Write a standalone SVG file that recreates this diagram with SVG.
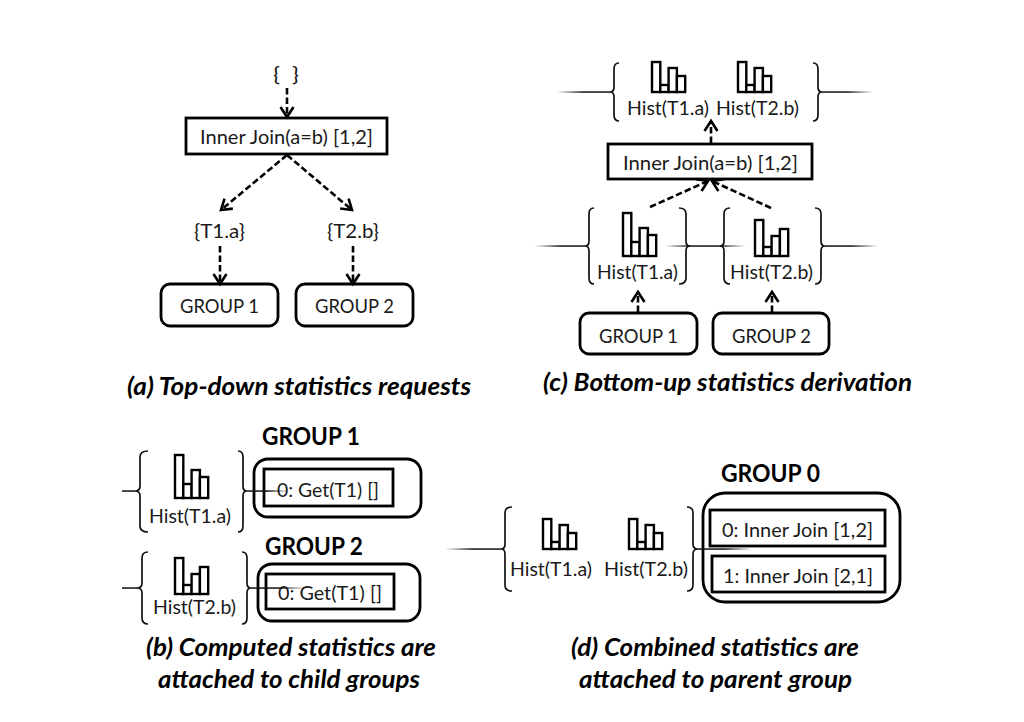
<svg xmlns="http://www.w3.org/2000/svg" xmlns:xlink="http://www.w3.org/1999/xlink" width="1024" height="722" viewBox="0 0 1024 722">
<style>
text{font-family:Lato,"Noto Sans",sans-serif;fill:#1a1a1a}
.t{font-size:20px}
.h{font-size:24px;font-weight:700;fill:#000}
.c{font-size:25px;font-weight:700;font-style:italic;fill:#000}
.box{fill:#fff;stroke:#000;stroke-width:2.8}
.out{fill:none;stroke:#000;stroke-width:2.8}
.br{fill:none;stroke:#111;stroke-width:1.7}
.bar{fill:#fff;stroke:#000;stroke-width:2.4}
.d{fill:none;stroke:#000;stroke-width:2.6;stroke-dasharray:6.500 3;marker-end:url(#a)}
</style>
<defs>
<marker id="a" markerUnits="userSpaceOnUse" markerWidth="18" markerHeight="18" refX="12" refY="8" orient="auto"><path d="M2 1.500 L12 8 L2 14.500" fill="none" stroke="#000" stroke-width="2.6"/></marker>
<linearGradient id="fl"><stop offset="0" stop-color="#111" stop-opacity="0"/><stop offset=".5" stop-color="#111"/></linearGradient>
<linearGradient id="fr"><stop offset=".5" stop-color="#111"/><stop offset="1" stop-color="#111" stop-opacity="0"/></linearGradient>
<linearGradient id="fb"><stop offset="0" stop-color="#111" stop-opacity="0"/><stop offset=".3" stop-color="#111"/><stop offset=".7" stop-color="#111"/><stop offset="1" stop-color="#111" stop-opacity="0"/></linearGradient>
<g id="iA"><rect class="bar" x="0" y="-43" width="8.300" height="43"/><rect class="bar" x="8.300" y="-14" width="8.300" height="14"/><rect class="bar" x="16.600" y="-28" width="8.300" height="28"/><rect class="bar" x="24.900" y="-21" width="8.300" height="21"/></g>
<g id="iB"><rect class="bar" x="0" y="-36" width="8.300" height="36"/><rect class="bar" x="8.300" y="-9" width="8.300" height="9"/><rect class="bar" x="16.600" y="-20" width="8.300" height="20"/><rect class="bar" x="24.900" y="-27" width="8.300" height="27"/></g>
<g id="iC"><rect class="bar" x="0" y="-30" width="8.300" height="30"/><rect class="bar" x="8.300" y="-7" width="8.300" height="7"/><rect class="bar" x="16.600" y="-24" width="8.300" height="24"/><rect class="bar" x="24.900" y="-16" width="8.300" height="16"/></g>
</defs>
<rect width="1024" height="722" fill="#fff"/>

<g id="panel-a">
<text id="a-empty" class="t" x="273" y="81" textLength="26" lengthAdjust="spacingAndGlyphs" xml:space="preserve">{  }</text>
<g id="a-join"><rect class="box" x="186" y="118" width="201" height="36"/><text class="t" x="200" y="144" textLength="173" lengthAdjust="spacingAndGlyphs">Inner Join(a=b) [1,2]</text></g>
<text id="a-t1" class="t" x="194" y="238" textLength="51" lengthAdjust="spacingAndGlyphs">{T1.a}</text>
<text id="a-t2" class="t" x="327" y="238" textLength="52" lengthAdjust="spacingAndGlyphs">{T2.b}</text>
<g id="a-g1"><rect class="box" x="161" y="284" width="117" height="42" rx="9"/><text class="t" x="180" y="313" textLength="79" lengthAdjust="spacingAndGlyphs">GROUP 1</text></g>
<g id="a-g2"><rect class="box" x="296" y="284" width="117" height="42" rx="9"/><text class="t" x="315" y="313" textLength="79" lengthAdjust="spacingAndGlyphs">GROUP 2</text></g>
</g>

<g id="panel-c">
<g id="c-top">
<rect x="557" y="91.300" width="53" height="1.500" fill="url(#fl)"/>
<rect x="822" y="91.300" width="51" height="1.500" fill="url(#fr)"/>
<path class="br" d="M619 63 Q614 63 614 69 L614 87 Q614 92 610 92 Q614 92 614 97 L614 115 Q614 121 619 121"/>
<path class="br" d="M813 63 Q818 63 818 69 L818 87 Q818 92 822 92 Q818 92 818 97 L818 115 Q818 121 813 121"/>
<use href="#iC" x="652" y="92"/><use href="#iC" x="738" y="92"/>
<text class="t" x="627" y="115" textLength="82" lengthAdjust="spacingAndGlyphs">Hist(T1.a)</text>
<text class="t" x="716" y="115" textLength="83" lengthAdjust="spacingAndGlyphs">Hist(T2.b)</text>
</g>
<g id="c-join"><rect class="box" x="608" y="144" width="204" height="35"/><text class="t" x="623" y="170" textLength="175" lengthAdjust="spacingAndGlyphs">Inner Join(a=b) [1,2]</text></g>
<g id="c-h1">
<rect x="535" y="245.300" width="50" height="1.500" fill="url(#fl)"/>
<path class="br" d="M594 208 Q589 208 589 214 L589 241 Q589 246 585 246 Q589 246 589 251 L589 278 Q589 284 594 284"/>
<path class="br" d="M679 208 Q686 208 686 214 L686 241 Q686 246 690 246 Q686 246 686 251 L686 278 Q686 284 679 284"/>
<use href="#iA" x="623" y="256"/>
<text class="t" x="597" y="279" textLength="81" lengthAdjust="spacingAndGlyphs">Hist(T1.a)</text>
</g>
<rect id="c-link" x="665" y="245.300" width="80" height="1.500" fill="url(#fb)"/>
<g id="c-h2">
<rect x="825" y="245.300" width="53" height="1.500" fill="url(#fr)"/>
<path class="br" d="M730 208 Q724 208 724 214 L724 241 Q724 246 720 246 Q724 246 724 251 L724 278 Q724 284 730 284"/>
<path class="br" d="M815 208 Q821 208 821 214 L821 241 Q821 246 825 246 Q821 246 821 251 L821 278 Q821 284 815 284"/>
<use href="#iB" x="755" y="256"/>
<text class="t" x="730" y="279" textLength="83" lengthAdjust="spacingAndGlyphs">Hist(T2.b)</text>
</g>
<g id="c-g1"><rect class="box" x="580" y="313" width="117" height="41" rx="9"/><text class="t" x="599" y="343" textLength="79" lengthAdjust="spacingAndGlyphs">GROUP 1</text></g>
<g id="c-g2"><rect class="box" x="713" y="313" width="116" height="41" rx="9"/><text class="t" x="732" y="343" textLength="79" lengthAdjust="spacingAndGlyphs">GROUP 2</text></g>
</g>

<g id="connectors">
<path class="d" d="M287 88 L287 117"/>
<path class="d" d="M287 155 L221 210"/>
<path class="d" d="M287 155 L352 210"/>
<path class="d" d="M220 246 L220 284"/>
<path class="d" d="M353 246 L353 284"/>
<path class="d" d="M711 143 L711 121"/>
<path class="d" d="M650 207 L708 181"/>
<path class="d" d="M771 208 L712 181"/>
<path class="d" d="M638 312 L638 292"/>
<path class="d" d="M772 312 L772 292"/>
</g>

<g id="panel-b">
<g id="b-g1">
<text class="h" x="262" y="445" textLength="98" lengthAdjust="spacingAndGlyphs">GROUP 1</text>
<rect class="out" x="254" y="459" width="167" height="58" rx="14"/>
<rect class="out" x="264" y="469" width="129" height="37"/>
<text class="t" x="277" y="497" textLength="102" lengthAdjust="spacingAndGlyphs">0: Get(T1) []</text>
</g>
<g id="b-h1">
<rect x="122" y="490.300" width="13" height="1.500" fill="#111"/>
<rect x="247" y="490.300" width="42" height="1.500" fill="url(#fr)"/>
<path class="br" d="M148 451 Q140 451 140 457 L140 486 Q140 491 135 491 Q140 491 140 496 L140 526 Q140 532 148 532"/>
<path class="br" d="M238 451 Q243 451 243 457 L243 486 Q243 491 247 491 Q243 491 243 496 L243 526 Q243 532 238 532"/>
<use href="#iA" x="175" y="498"/>
<text class="t" x="149" y="523" textLength="82" lengthAdjust="spacingAndGlyphs">Hist(T1.a)</text>
</g>
<g id="b-g2">
<text class="h" x="265" y="555" textLength="98" lengthAdjust="spacingAndGlyphs">GROUP 2</text>
<rect class="out" x="258" y="564" width="162" height="57" rx="14"/>
<rect class="out" x="266" y="574" width="128" height="35"/>
<text class="t" x="278" y="600" textLength="104" lengthAdjust="spacingAndGlyphs">0: Get(T1) []</text>
</g>
<g id="b-h2">
<rect x="122" y="587.300" width="15" height="1.500" fill="#111"/>
<rect x="251" y="587.300" width="56" height="1.500" fill="url(#fr)"/>
<path class="br" d="M148 552 Q142 552 142 558 L142 583 Q142 588 137 588 Q142 588 142 593 L142 618 Q142 624 148 624"/>
<path class="br" d="M242 552 Q247 552 247 558 L247 583 Q247 588 251 588 Q247 588 247 593 L247 618 Q247 624 242 624"/>
<use href="#iB" x="175" y="594"/>
<text class="t" x="153" y="614" textLength="83" lengthAdjust="spacingAndGlyphs">Hist(T2.b)</text>
</g>
</g>

<g id="panel-d">
<g id="d-g0">
<text class="h" x="721" y="482" textLength="99" lengthAdjust="spacingAndGlyphs">GROUP 0</text>
<rect class="out" x="703" y="493" width="197" height="109" rx="22"/>
<rect class="out" x="710" y="510" width="175" height="36"/>
<rect class="out" x="712" y="556" width="173" height="36"/>
<text class="t" x="722" y="537" textLength="151" lengthAdjust="spacingAndGlyphs">0: Inner Join [1,2]</text>
<text class="t" x="723" y="583" textLength="150" lengthAdjust="spacingAndGlyphs">1: Inner Join [2,1]</text>
</g>
<g id="d-h">
<rect x="445" y="548.300" width="56" height="1.500" fill="url(#fl)"/>
<rect x="698" y="548.300" width="54" height="1.500" fill="url(#fr)"/>
<path class="br" d="M512 507 Q505 507 505 513 L505 544 Q505 549 501 549 Q505 549 505 554 L505 585 Q505 591 512 591"/>
<path class="br" d="M687 507 Q693 507 693 513 L693 544 Q693 549 698 549 Q693 549 693 554 L693 585 Q693 591 687 591"/>
<use href="#iC" x="543" y="549"/><use href="#iC" x="629" y="549"/>
<text class="t" x="510" y="576" textLength="82" lengthAdjust="spacingAndGlyphs">Hist(T1.a)</text>
<text class="t" x="604" y="576" textLength="84" lengthAdjust="spacingAndGlyphs">Hist(T2.b)</text>
</g>
</g>

<g id="captions">
<text class="c" x="127" y="395" textLength="344" lengthAdjust="spacingAndGlyphs">(a) Top-down statistics requests</text>
<text class="c" x="543" y="391" textLength="369" lengthAdjust="spacingAndGlyphs">(c) Bottom-up statistics derivation</text>
<text class="c" x="146" y="656" textLength="290" lengthAdjust="spacingAndGlyphs">(b) Computed statistics are</text>
<text class="c" x="158" y="688" textLength="262" lengthAdjust="spacingAndGlyphs">attached to child groups</text>
<text class="c" x="571" y="656" textLength="288" lengthAdjust="spacingAndGlyphs">(d) Combined statistics are</text>
<text class="c" x="579" y="688" textLength="273" lengthAdjust="spacingAndGlyphs">attached to parent group</text>
</g>
</svg>
